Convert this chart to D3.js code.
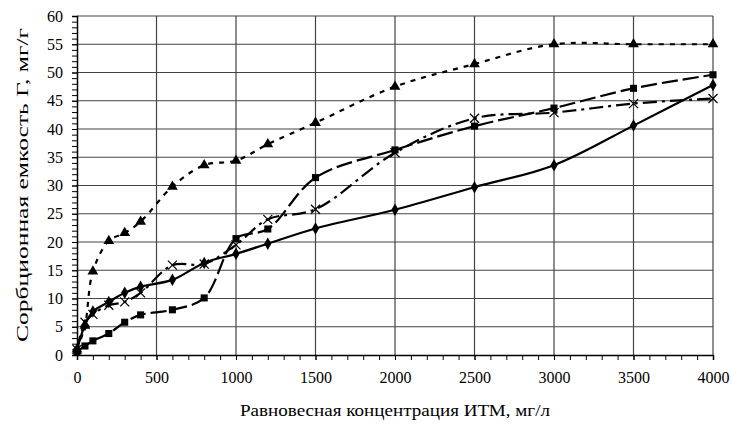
<!DOCTYPE html>
<html>
<head>
<meta charset="utf-8">
<script src="https://cdn.jsdelivr.net/npm/d3@7"></script>
<style>
  body { margin: 0; background: #fff; }
</style>
</head>
<body>
<svg width="732" height="426"></svg>
<script>
// x values (мг/л) and sorption capacity (мг/г) for each curve
let xDiamond = [0, 50, 100, 200, 300, 400, 600, 800, 1000, 1200, 1500, 2000, 2500, 3000, 3500, 4000]
let yDiamond = [0.9, 5.3, 7.7, 9.4, 11.0, 12.1, 13.3, 16.3, 17.9, 19.7, 22.4, 25.7, 29.7, 33.6, 40.6, 47.8]

let xSquare = [0, 50, 100, 200, 300, 400, 600, 800, 1000, 1200, 1500, 2000, 2500, 3000, 3500, 4000]
let ySquare = [0.6, 1.6, 2.5, 3.8, 5.8, 7.1, 8.0, 10.1, 20.6, 22.3, 31.4, 36.3, 40.5, 43.7, 47.2, 49.6]

let xTriangle = [0, 50, 100, 200, 300, 400, 600, 800, 1000, 1200, 1500, 2000, 2500, 3000, 3500, 4000]
let yTriangle = [1.0, 5.2, 14.8, 20.2, 21.6, 23.6, 29.8, 33.6, 34.4, 37.3, 41.1, 47.5, 51.5, 55.0, 55.0, 55.0]

let xCross = [0, 50, 100, 200, 300, 400, 600, 800, 1000, 1200, 1500, 2000, 2500, 3000, 3500, 4000]
let yCross = [1.0, 5.8, 7.2, 8.8, 9.4, 11.0, 15.9, 16.1, 19.5, 24.0, 25.8, 35.8, 41.9, 42.9, 44.5, 45.4]

let xTicks = [0, 500, 1000, 1500, 2000, 2500, 3000, 3500, 4000]
let yTicks = [0, 5, 10, 15, 20, 25, 30, 35, 40, 45, 50, 55, 60]

let xTitle = 'Равновесная концентрация ИТМ, мг/л'
let yTitle = 'Сорбционная емкость Г, мг/г'

let font = 'Liberation Serif'
let width = 732
let height = 426
let margin = {left: 77, right: 19, top: 16, bottom: 71}

let svg = d3.select('svg')

let xScale = d3.scaleLinear()
    .domain([0, 4000])
    .range([margin.left, width - margin.right])

let yScale = d3.scaleLinear()
    .domain([0, 60])
    .range([height - margin.bottom, margin.top])

// grid
svg.append('g')
    .selectAll('line')
    .data(yTicks.slice(1))
    .enter()
    .append('line')
    .attr('x1', xScale(0))
    .attr('x2', xScale(4000))
    .attr('y1', (d) => yScale(d))
    .attr('y2', (d) => yScale(d))
    .attr('stroke', '#444')
    .attr('stroke-width', 1.2)

svg.append('g')
    .selectAll('line')
    .data(xTicks.slice(1))
    .enter()
    .append('line')
    .attr('x1', (d) => xScale(d))
    .attr('x2', (d) => xScale(d))
    .attr('y1', yScale(0))
    .attr('y2', yScale(60))
    .attr('stroke', '#444')
    .attr('stroke-width', 1.2)

// axes: minor ticks first, then major with labels
svg.append('g')
    .attr('transform', 'translate(0,' + yScale(0) + ')')
    .call(d3.axisBottom(xScale).tickValues(d3.range(0, 4001, 100)).tickSize(5).tickFormat(''))
    .call(g => g.select('.domain').remove())

let xAxis = svg.append('g')
    .attr('transform', 'translate(0,' + yScale(0) + ')')
    .call(d3.axisBottom(xScale).tickValues(xTicks).tickSize(5).tickPadding(12).tickFormat(d3.format('d')))

svg.append('g')
    .attr('transform', 'translate(' + xScale(0) + ',0)')
    .call(d3.axisLeft(yScale).tickValues(d3.range(0, 61, 1)).tickSize(5).tickFormat(''))
    .call(g => g.select('.domain').remove())

let yAxis = svg.append('g')
    .attr('transform', 'translate(' + xScale(0) + ',0)')
    .call(d3.axisLeft(yScale).tickValues(yTicks).tickSize(5).tickPadding(9).tickFormat(d3.format('d')))

svg.selectAll('g').attr('font-family', font)
xAxis.selectAll('text').style('font-family', font).style('font-size', '16px')
yAxis.selectAll('text').style('font-family', font).style('font-size', '16px')

svg.selectAll('.domain').attr('stroke', '#000').attr('stroke-width', 1.5)
svg.selectAll('.tick line').attr('stroke', '#000')

// titles
svg.append('text')
    .attr('x', 395)
    .attr('y', 416)
    .attr('text-anchor', 'middle')
    .style('font-family', font)
    .style('font-size', '17px')
    .attr('textLength', 310)
    .attr('lengthAdjust', 'spacingAndGlyphs')
    .text(xTitle)

svg.append('text')
    .attr('transform', 'translate(28,185) rotate(-90)')
    .attr('text-anchor', 'middle')
    .style('font-family', font)
    .style('font-size', '17px')
    .attr('textLength', 314)
    .attr('lengthAdjust', 'spacingAndGlyphs')
    .text(yTitle)

// series
let line = d3.line()
    .x((d) => xScale(d[0]))
    .y((d) => yScale(d[1]))
    .curve(d3.curveCatmullRom.alpha(0.5))

let series = [
    {x: xDiamond, y: yDiamond, dash: null, marker: 'diamond'},
    {x: xSquare, y: ySquare, dash: '16,5', marker: 'square'},
    {x: xTriangle, y: yTriangle, dash: '5,6', marker: 'triangle'},
    {x: xCross, y: yCross, dash: '14,5,3,5', marker: 'cross'}
]

let symbols = {
    diamond: d3.symbol().type(d3.symbolDiamond).size(45),
    square: d3.symbol().type(d3.symbolSquare).size(50),
    triangle: d3.symbol().type(d3.symbolTriangle).size(50),
    cross: d3.symbol().type(d3.symbolX).size(55)
}

series.forEach((s) => {
    let pts = s.x.map((v, i) => [v, s.y[i]])
    svg.append('path')
        .attr('d', line(pts))
        .attr('fill', 'none')
        .attr('stroke', '#000')
        .attr('stroke-width', 2.2)
        .attr('stroke-dasharray', s.dash)

    svg.append('g')
        .selectAll('path')
        .data(pts)
        .enter()
        .append('path')
        .attr('d', symbols[s.marker])
        .attr('transform', (d) => 'translate(' + xScale(d[0]) + ',' + yScale(d[1]) + ')')
        .attr('fill', s.marker == 'cross' ? 'none' : '#000')
        .attr('stroke', '#000')
        .attr('stroke-width', s.marker == 'cross' ? 1.2 : 0)
})
</script>
</body>
</html>
